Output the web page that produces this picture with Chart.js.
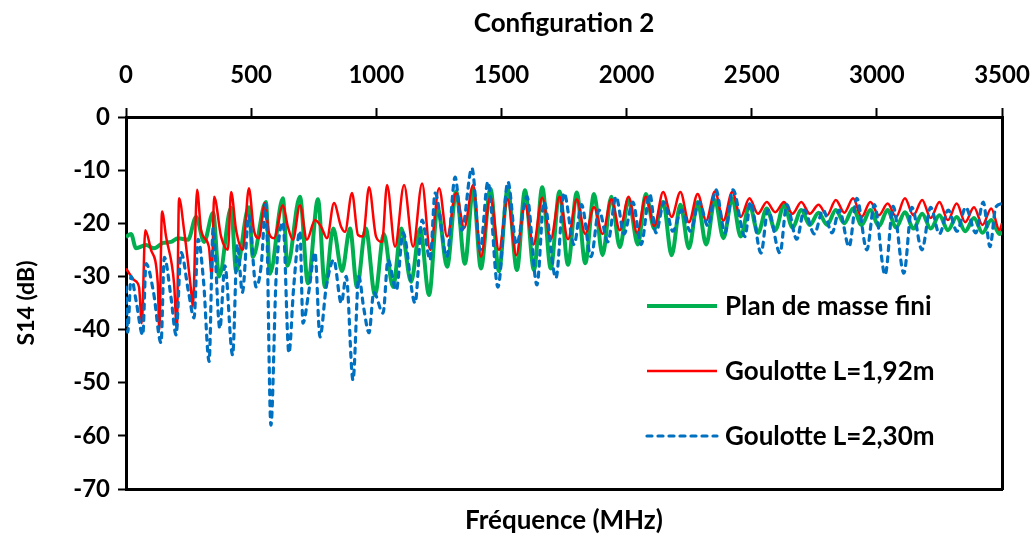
<!DOCTYPE html>
<html>
<head>
<meta charset="utf-8">
<script src="https://cdn.jsdelivr.net/npm/chart.js@4.4.1/dist/chart.umd.min.js"></script>
<style>
  html, body { margin: 0; padding: 0; background: #fff; }
  #wrap { width: 1035px; height: 538px; }
</style>
</head>
<body>
<div id="wrap"><canvas id="s14-chart" width="1035" height="538"></canvas></div>
<script>
  // Frequency (MHz) / S14 (dB) pairs
  const planMasseFini = [
    [0,-22.6],[20,-22],[40,-24.7],[80,-24.1],[112,-24.7],[148,-23.7],[180,-23.5],[208,-22.8],[248,-23.1],
    [280,-18.8],[312,-23.5],[348,-18],[372,-30],[420,-17.1],[440,-29],[491,-17],[507,-26.3],[559,-16],
    [575,-29.5],[627,-15.3],[645,-28],[695,-15],[727,-31.3],[767,-15.5],[795,-32],[828,-21],[863,-29],
    [895,-21],[923,-32],[958,-21],[995,-33.5],[1030,-22],[1067,-32],[1100,-21],[1139,-31],[1175,-21],
    [1211,-33.5],[1245,-17],[1283,-28.2],[1319,-14],[1354,-27.6],[1387,-13.5],[1418,-28.5],[1456,-13.5],
    [1490,-29],[1525,-13.5],[1562,-28.8],[1594,-13.8],[1630,-28.8],[1663,-13.2],[1697,-28.5],[1732,-14],
    [1766,-27.8],[1801,-14.2],[1835,-27.5],[1870,-14.5],[1904,-26],[1939,-15],[1973,-24.5],[2008,-15.5],
    [2045,-24],[2077,-14.5],[2111,-21],[2146,-16],[2180,-26],[2215,-16.5],[2249,-24.7],[2284,-16],
    [2318,-24],[2353,-15.6],[2387,-22.8],[2422,-15.3],[2456,-22.5],[2491,-16.5],[2525,-21.8],[2560,-17.2],
    [2594,-21.3],[2629,-16.5],[2663,-20.8],[2698,-17.5],[2732,-20.3],[2767,-18],[2801,-20.3],[2836,-17.5],
    [2870,-20],[2905,-17.2],[2939,-20.3],[2974,-17.5],[3008,-20.5],[3043,-17.5],[3077,-20.8],[3112,-17.9],
    [3146,-21],[3181,-18.2],[3215,-21],[3250,-18.5],[3284,-21.3],[3319,-18.8],[3353,-21.5],[3388,-19],
    [3422,-21.8],[3457,-19.4],[3490,-22],[3500,-21.6]
  ];

  const goulotte192 = [
    [0,-28.5],[33,-30.7],[52,-32],[63,-38.8],[77,-21.3],[100,-25],[127,-31.3],[133,-40],[144,-17.8],
    [160,-22.5],[192,-31.3],[203,-40],[212,-15.3],[232,-21.3],[260,-32.6],[267,-35.7],[284,-13.7],
    [300,-21.3],[331,-24.4],[343,-30],[352,-15],[380,-22.5],[407,-25],[420,-14.1],[440,-21.3],[467,-25],
    [491,-13.4],[511,-21.3],[531,-22.8],[555,-16.2],[571,-21.8],[591,-22.8],[627,-16.6],[647,-20.7],
    [667,-23.1],[695,-16.6],[723,-23.1],[755,-19.4],[779,-20.6],[803,-22.8],[831,-16.2],[859,-20.6],
    [875,-21.6],[903,-14.3],[927,-22.2],[947,-22.5],[971,-13.2],[999,-22.5],[1023,-23.5],[1043,-12.8],
    [1075,-24.4],[1111,-12.8],[1147,-24.4],[1183,-12.5],[1215,-25],[1251,-13.4],[1283,-22.5],[1319,-14.3],
    [1351,-20.9],[1387,-12.8],[1418,-26.3],[1456,-15],[1490,-25],[1525,-15.5],[1559,-26],[1594,-16.5],
    [1628,-24],[1663,-15.2],[1697,-23],[1732,-15],[1766,-23],[1801,-15.5],[1835,-22],[1870,-17],
    [1904,-22],[1939,-15.5],[1973,-21.3],[2008,-15],[2042,-21.8],[2077,-15],[2111,-20.5],[2146,-14.1],
    [2180,-18.8],[2215,-14.1],[2249,-19.8],[2284,-14.5],[2318,-19.5],[2353,-14],[2387,-19.5],[2422,-14.1],
    [2456,-18.8],[2491,-15.3],[2525,-18.2],[2560,-16],[2594,-17.9],[2629,-16],[2663,-18.2],[2698,-16],
    [2732,-18.2],[2767,-16.5],[2801,-18.5],[2836,-15.6],[2870,-18],[2905,-15.3],[2939,-18.8],[2974,-16],
    [3008,-18.5],[3043,-16.3],[3077,-18.8],[3112,-15.3],[3146,-18.5],[3181,-15.6],[3215,-19],[3250,-16],
    [3284,-19.4],[3319,-16.3],[3353,-19.8],[3388,-17],[3422,-20.3],[3457,-17.2],[3490,-21.3],[3500,-20]
  ];

  const goulotte230 = [
    [0,-32],[7,-40.5],[20,-30],[40,-34.5],[67,-41],[80,-27.6],[110,-33],[140,-42.5],[153,-26.4],
    [180,-34],[200,-41],[220,-25.5],[250,-33],[272,-37.8],[288,-23],[310,-31],[332,-46],[348,-21],
    [375,-39.8],[395,-28],[426,-44.8],[445,-24],[465,-33],[491,-18.6],[520,-32],[540,-28],[559,-16.4],
    [579,-58],[600,-30],[627,-19.8],[651,-44.4],[670,-32],[695,-21.5],[707,-38.8],[730,-33],[755,-25.5],
    [775,-41.4],[800,-32],[830,-26.9],[860,-35],[880,-30],[907,-49.5],[930,-30],[950,-36],[971,-40.6],
    [990,-33],[1027,-36.9],[1047,-26.9],[1080,-32.6],[1107,-21.8],[1155,-35],[1183,-19.4],[1215,-26.9],
    [1235,-14.3],[1282,-26.3],[1315,-11.3],[1342,-21.3],[1382,-9.6],[1415,-25],[1446,-12.2],[1486,-32],
    [1526,-12.2],[1560,-24],[1602,-15],[1642,-31.6],[1670,-16],[1718,-30.3],[1750,-14.3],[1790,-24],
    [1820,-16.5],[1858,-26.3],[1890,-17.5],[1925,-23.5],[1958,-15],[1990,-22],[2025,-16],[2058,-24],
    [2093,-14.5],[2117,-21.8],[2150,-16],[2185,-21.5],[2220,-17.5],[2255,-21.5],[2290,-16],[2325,-20.5],
    [2357,-13.7],[2393,-21.8],[2425,-13.7],[2473,-22.5],[2495,-16],[2537,-25.6],[2565,-17.5],[2613,-25.6],
    [2640,-16.5],[2680,-23],[2710,-17.5],[2750,-22],[2785,-17.5],[2821,-21.8],[2850,-17.5],[2889,-24.4],
    [2920,-15.3],[2960,-25],[2990,-16.5],[3033,-29.7],[3065,-16.8],[3108,-29.4],[3140,-17],[3180,-25],
    [3215,-17],[3250,-22],[3285,-17.5],[3320,-21.5],[3355,-17],[3395,-21.8],[3425,-16],[3452,-24.4],
    [3475,-17],[3500,-16.3]
  ];

  const seriesLabels = ['Plan de masse fini', 'Goulotte L=1,92m', 'Goulotte L=2,30m'];
  const seriesColors = ['#00B050', '#FF0000', '#0070C0'];
  const xTicks = [0, 500, 1000, 1500, 2000, 2500, 3000, 3500];
  const yTicks = [0, -10, -20, -30, -40, -50, -60, -70];

  const FONT = 'Lato, "Open Sans", sans-serif';

  function toPoints(pairs) {
    return pairs.map(p => ({ x: p[0], y: p[1] }));
  }

  // legend drawn inside the plot, lower right
  const insideLegend = {
    id: 'insideLegend',
    afterDatasetsDraw(chart) {
      const ctx = chart.ctx;
      const area = chart.chartArea;
      const x0 = area.right - 355;
      const x1 = x0 + 70;
      ctx.save();
      chart.data.datasets.forEach((ds, i) => {
        const y = area.top + 189 + i * 65;
        ctx.beginPath();
        ctx.strokeStyle = ds.borderColor;
        ctx.lineWidth = ds.borderWidth;
        ctx.lineCap = ds.borderCapStyle || 'butt';
        ctx.setLineDash(ds.borderDash || []);
        ctx.moveTo(x0, y);
        ctx.lineTo(x1, y);
        ctx.stroke();
        ctx.setLineDash([]);
        ctx.fillStyle = '#000';
        ctx.font = 'bold 26px ' + FONT;
        ctx.textBaseline = 'middle';
        ctx.textAlign = 'left';
        ctx.fillText(ds.label, x1 + 8, y + 1);
      });
      ctx.restore();
    }
  };

  const tickFont = { family: FONT, size: 24, weight: 'bold' };
  const titleFont = { family: FONT, size: 26, weight: 'bold' };

  const canvas = document.getElementById('s14-chart');
  new Chart(canvas.getContext('2d'), {
    type: 'line',
    data: {
      datasets: [
        {
          label: seriesLabels[0],
          data: toPoints(planMasseFini),
          borderColor: seriesColors[0],
          borderWidth: 4,
          order: 2
        },
        {
          label: seriesLabels[1],
          data: toPoints(goulotte192),
          borderColor: seriesColors[1],
          borderWidth: 2.5,
          order: 1
        },
        {
          label: seriesLabels[2],
          data: toPoints(goulotte230),
          borderColor: seriesColors[2],
          borderWidth: 3.2,
          borderDash: [5, 6],
          borderCapStyle: 'round',
          order: 0
        }
      ].map(ds => Object.assign({
        xAxisID: 'x',
        yAxisID: 'y',
        fill: false,
        pointRadius: 0,
        cubicInterpolationMode: 'monotone',
        backgroundColor: ds.borderColor
      }, ds))
    },
    options: {
      responsive: false,
      animation: false,
      layout: { padding: 0 },
      plugins: {
        legend: { display: false },
        tooltip: { enabled: false },
        title: { display: false }
      },
      scales: {
        x: {
          type: 'linear',
          position: 'top',
          min: 0,
          max: 3500,
          afterBuildTicks: s => { s.ticks = xTicks.map(v => ({ value: v })); },
          afterFit: s => { s.height = 117; s.paddingLeft = 0; s.paddingRight = 0; },
          ticks: { color: '#000', font: tickFont, padding: 18, maxRotation: 0, callback: v => String(v) },
          grid: { drawOnChartArea: false, drawTicks: true, tickLength: 9, tickWidth: 2, tickColor: '#000' },
          border: { display: true, color: '#000', width: 3 },
          title: { display: true, text: 'Configuration 2', color: '#000', font: titleFont, padding: { top: 8, bottom: 0 } }
        },
        y: {
          type: 'linear',
          position: 'left',
          min: -70,
          max: 0,
          afterBuildTicks: s => { s.ticks = yTicks.map(v => ({ value: v })); },
          afterFit: s => { s.width = 126; s.paddingTop = 0; s.paddingBottom = 0; },
          ticks: { color: '#000', font: tickFont, padding: 8, callback: v => String(v) },
          grid: { drawOnChartArea: false, drawTicks: true, tickLength: 8, tickWidth: 2, tickColor: '#000' },
          border: { display: true, color: '#000', width: 3 },
          title: { display: true, text: 'S14 (dB)', color: '#000', font: { family: FONT, size: 23, weight: 'bold' }, padding: { top: 13, bottom: 0 } }
        },
        x2: {
          type: 'linear',
          position: 'bottom',
          min: 0,
          max: 3500,
          afterFit: s => { s.height = 49; s.paddingLeft = 0; s.paddingRight = 0; },
          ticks: { display: false },
          grid: { display: false },
          border: { display: true, color: '#000', width: 3 },
          title: { display: true, text: 'Fréquence (MHz)', color: '#000', font: titleFont, padding: { top: 0, bottom: 2 } }
        },
        y2: {
          type: 'linear',
          position: 'right',
          min: -70,
          max: 0,
          afterFit: s => { s.width = 33; },
          ticks: { display: false },
          grid: { display: false },
          border: { display: true, color: '#000', width: 3 }
        }
      }
    },
    plugins: [insideLegend]
  });
</script>
</body>
</html>
